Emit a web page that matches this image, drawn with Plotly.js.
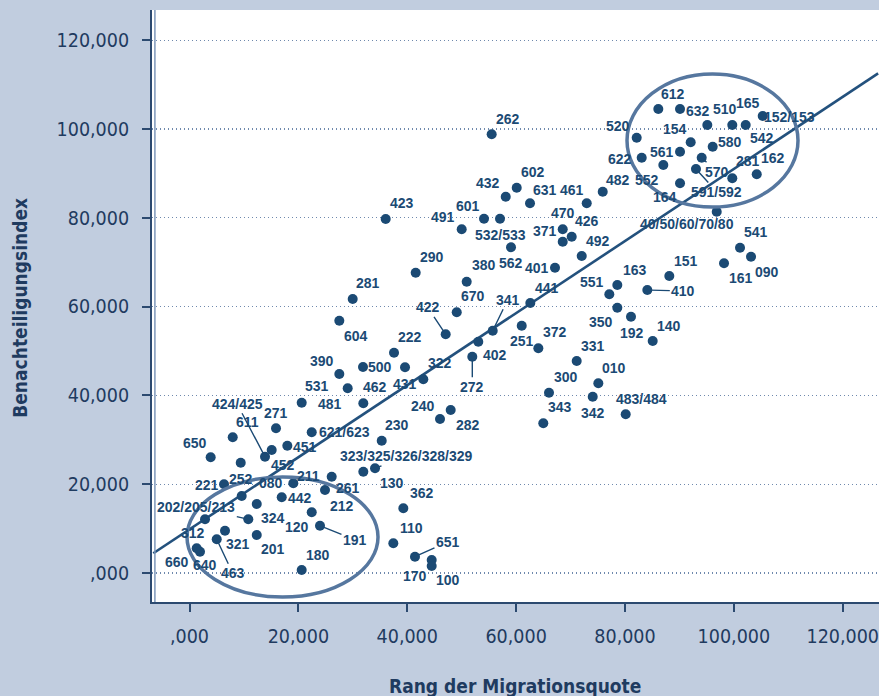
<!DOCTYPE html>
<html><head><meta charset="utf-8">
<script src="https://cdn.plot.ly/plotly-3.0.1.min.js"></script>
<style>html,body{margin:0;padding:0;background:#c1cddf;} #chart{width:879px;height:696px;}</style>
</head><body><div id="chart"></div>
<script>
// ---- data (values in thousands, as printed "20,000" = 20.000) ----
const districtIds = ["262","423","432","602","631","461","601","491","532/533","562",
"470","371","426","492","401","380","670","341","441","551",
"163","350","192","140","151","410","161","090","541","40/50/60/70/80",
"482","520","612","632","510","165","542","152/153","154","580",
"561","622","570","552","591/592","281","162","164","290","281",
"604","422","222","390","500","431","322","402","272","251",
"372","331","300","010","342","343","483/484","531","481","462",
"240","282","230","621/623","323/325/326/328/329","130","362","110","651","170",
"100","424/425","611","271","452","451","650","252","221","080",
"211","261","212","442","120","191","324","202/205/213","312","321",
"201","463","640","660","180"];
const migrationRank = [55.51,36.04,58.09,60.11,62.55,72.97,54.10,50.00,57.04,59.06,
68.56,68.56,70.21,72.05,67.14,50.92,49.09,55.70,62.61,77.12,
78.59,78.59,81.10,85.09,88.14,84.10,98.19,103.15,101.13,96.85,
75.91,82.15,86.12,90.11,95.12,99.71,102.17,105.30,92.07,96.11,
90.11,83.07,94.09,87.04,93.04,99.71,104.20,90.11,41.55,29.98,
27.52,47.06,37.57,27.52,31.87,39.59,42.95,53.05,51.95,61.03,
64.08,71.13,66.04,75.10,74.07,64.99,80.13,20.61,29.06,31.93,
46.02,47.98,35.31,22.45,34.08,31.93,39.28,37.44,41.42,44.49,
44.49,13.87,7.94,15.89,15.10,17.97,3.89,9.41,6.34,9.59,
19.07,26.12,24.89,16.94,22.45,23.97,12.35,10.80,2.85,6.52,
12.35,5.00,1.93,1.32,20.61];
const disadvantageIndex = [98.80,79.72,84.74,86.77,83.26,83.26,79.79,77.40,79.79,73.35,
77.40,74.61,75.74,71.39,68.75,65.60,58.71,54.57,60.80,62.76,
64.86,59.75,57.72,52.25,66.88,63.73,69.74,71.23,73.26,81.37,
85.87,98.03,104.49,104.49,100.89,100.89,100.89,102.92,96.99,96.00,
94.88,93.53,93.53,91.88,90.98,88.89,89.79,87.76,67.63,61.71,
56.82,53.76,49.61,44.82,46.39,46.32,43.62,52.09,48.71,55.69,
50.60,47.74,40.60,42.72,39.70,33.71,35.74,38.35,41.59,38.22,
34.68,36.71,29.79,31.69,23.58,22.81,14.57,6.69,3.67,2.93,
1.58,26.19,30.56,32.59,27.70,28.67,26.06,24.84,19.98,17.34,
20.20,21.69,18.69,17.05,13.67,10.65,15.54,12.09,12.09,9.53,
8.56,7.59,4.80,5.56,0.68];
const axisTickVals = [0,20,40,60,80,100,120];
const axisTickText = [",000","20,000","40,000","60,000","80,000","100,000","120,000"];
// regression line (end points)
const trendX = [-6.65, 126.5];
const trendY = [4.44, 112.5];

// ---- label placement (pixel offsets from the dot; 1 = leader line) ----
const labelPlacement = [
[16,-15,0],[16,-16,0],[-18,-14,0],[16,-16,0],[15,-13,0],[-15,-13,0],[-16,-13,0],[-19,-12,0],[0,16,0],[0,16,0],
[0,-16,0],[-18,-11,0],[15,-16,0],[16,-15,0],[-18,0,0],[17,-17,0],[16,-16,0],[15,-31,1],[17,-15,0],[-17,-12,0],
[18,-15,0],[-16,14,0],[1,16,0],[16,-15,0],[17,-15,0],[36,1,1],[17,15,0],[16,15,0],[16,-16,0],[-30,12,0],
[15,-12,0],[-19,-12,0],[15,-15,0],[18,2,0],[18,-16,0],[16,-22,0],[16,13,0],[27,1,0],[-16,-13,0],[17,-5,0],
[-18,0,0],[-22,1,0],[15,14,1],[-16,15,0],[21,23,1],[16,-17,0],[16,-16,0],[-15,14,0],[16,-16,0],[15,-16,0],
[17,15,0],[-18,-27,1],[16,-16,0],[-17,-13,0],[17,0,0],[0,17,0],[17,-16,0],[17,13,0],[0,30,1],[0,15,0],
[17,-16,0],[16,-15,0],[17,-16,0],[16,-15,0],[0,16,0],[17,-16,0],[16,-15,0],[15,-17,0],[-18,16,0],[12,-16,0],
[-17,-13,0],[17,15,0],[15,-16,0],[33,0,0],[31,-12,1],[29,11,0],[19,-15,0],[18,-15,0],[33,-15,1],[-17,16,0],
[16,14,0],[-28,-53,1],[15,-15,0],[0,-15,0],[11,15,0],[18,1,0],[-16,-14,0],[0,16,0],[-17,1,0],[29,-13,0],
[15,-7,0],[16,11,0],[17,16,0],[18,1,0],[-15,15,0],[35,14,1],[16,14,0],[-52,-12,1],[-12,14,0],[13,13,0],
[16,14,0],[16,34,1],[5,13,0],[-20,14,0],[16,-15,0]];

const NAVY = '#1b4a74';
const AXISC = '#2c4a70';
const tickFont = {family:'"Liberation Sans Narrow","DejaVu Sans Condensed","Roboto Condensed",sans-serif', size:19.5, color:'#1f3b60'};
const labelFont = {family:'"Liberation Sans",Arial,sans-serif', size:14, color:NAVY, weight:700};

const annotations = districtIds.map((id,i)=>{
  const [dx,dy,lead] = labelPlacement[i];
  if (lead) {
    return {x:migrationRank[i], y:disadvantageIndex[i], text:id, showarrow:true, ax:dx, ay:dy,
      arrowhead:0, arrowwidth:1.4, arrowcolor:NAVY, standoff:3, font:labelFont};
  }
  return {x:migrationRank[i], y:disadvantageIndex[i], text:id, showarrow:false,
    xshift:dx, yshift:-dy, xanchor:'center', yanchor:'middle', font:labelFont};
});
annotations.push({xref:'paper', yref:'paper', x:-0.1816, y:0.497, text:'Benachteiligungsindex',
  textangle:-90, showarrow:false, xanchor:'center', yanchor:'middle',
  font:{family:'"Liberation Sans Narrow","DejaVu Sans Condensed",sans-serif', size:19, color:'#1f3b60', weight:700}});
annotations.push({xref:'paper', yref:'paper', x:0.4993, y:-0.1419, text:'Rang der Migrationsquote',
  showarrow:false, xanchor:'center', yanchor:'middle',
  font:{family:'"Liberation Sans Narrow","DejaVu Sans Condensed",sans-serif', size:19, color:'#1f3b60', weight:700}});

const traces = [
  {x:trendX, y:trendY, mode:'lines', line:{color:'#23517d', width:2.6}, hoverinfo:'skip', showlegend:false},
  {x:migrationRank, y:disadvantageIndex, mode:'markers', marker:{size:10, color:NAVY}, showlegend:false, text:districtIds}
];

const layout = {
  width:879, height:696,
  margin:{l:152, r:0, t:10, b:94},
  paper_bgcolor:'#c1cddf', plot_bgcolor:'#ffffff',
  showlegend:false,
  xaxis:{range:[-6.89,126.66], tickvals:axisTickVals, ticktext:axisTickText, ticks:'outside', ticklen:8, tickwidth:2,
    tickcolor:AXISC, showgrid:false, zeroline:false, showline:true, linecolor:AXISC, linewidth:2,
    tickfont:tickFont, ticklabelstandoff:8, ticklabeloverflow:'allow'},
  yaxis:{range:[-6.53,126.79], tickvals:axisTickVals, ticktext:axisTickText, ticks:'outside', ticklen:8, tickwidth:2,
    tickcolor:AXISC, showgrid:true, gridcolor:'#6f89ad', griddash:'1px,3px', gridwidth:1.2, zeroline:false,
    showline:true, linecolor:AXISC, linewidth:2, tickfont:tickFont, ticklabelstandoff:9},
  shapes:[
    {type:'line', xref:'paper', yref:'paper', x0:0.0040, x1:0.0040, y0:0, y1:1, line:{color:'#7d97ba', width:1.5}},
    {type:'circle', xref:'x', yref:'y', x0:80.37, x1:111.78, y0:82.42, y1:112.38, line:{color:'#56779f', width:3.5}},
    {type:'circle', xref:'x', yref:'y', x0:-0.46, x1:34.63, y0:-5.4, y1:21.62, line:{color:'#56779f', width:3.5}}
  ],
  annotations:annotations
};
Plotly.newPlot('chart', traces, layout, {displayModeBar:false, staticPlot:true});
</script></body></html>
